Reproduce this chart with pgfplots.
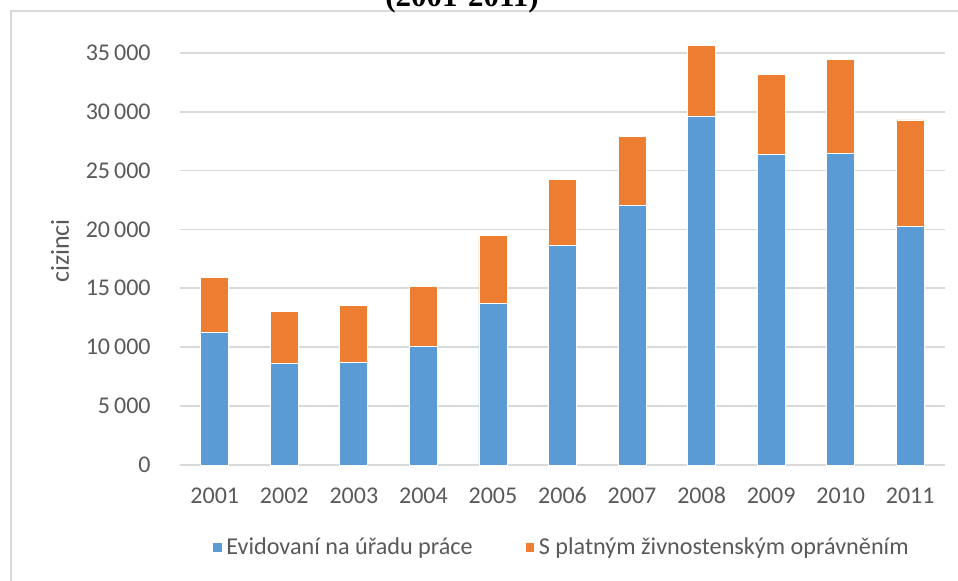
\documentclass[border=0pt]{standalone}
\usepackage{fontspec}
\usepackage{pgfplots}
\pgfplotsset{compat=1.18}
\setmainfont{Carlito}
\newfontfamily\titlefont{Liberation Serif}
\definecolor{ExBlue}{HTML}{5B9BD5}
\definecolor{ExOrange}{HTML}{ED7D31}
\definecolor{ExText}{HTML}{595959}
\definecolor{ExGrid}{HTML}{D9D9D9}

% 1 px of the reference = 0.5pt
\begin{document}
\begin{tikzpicture}
\draw[ExGrid, line width=1pt] (5.5pt,-5pt) -- (5.5pt,284.5pt) -- (485pt,284.5pt);
\node[anchor=base, inner sep=0pt, font=\titlefont\bfseries\fontsize{15.5}{18}\selectfont]
  at (231pt,287pt) {(2001-2011)};
\begin{axis}[
  at={(90pt,57.5pt)}, anchor=south west,
  scale only axis,
  width=382.5pt, height=206.15pt,
  ybar stacked, bar width=14pt,
  xmin=-0.5, xmax=10.5,
  ymin=0, ymax=35000,
  clip=false,
  axis line style={draw=none},
  scaled y ticks=false,
  xtick={0,...,10},
  xticklabels={2001,2002,2003,2004,2005,2006,2007,2008,2009,2010,2011},
  ytick={0,5000,10000,15000,20000,25000,30000,35000},
  yticklabels={0,5\,000,10\,000,15\,000,20\,000,25\,000,30\,000,35\,000},
  major tick length=0pt,
  ymajorgrids,
  grid style={draw=ExGrid, line width=0.9pt},
  tick label style={text=ExText, font=\fontsize{12}{14}\selectfont,
    text height=7.6pt, text depth=0pt},
  yticklabel style={anchor=east, inner sep=0pt, xshift=-14.5pt},
  xticklabel style={anchor=north, inner sep=0pt, yshift=-11.5pt},
  legend style={at={(0.5,-0.2)}, anchor=center, draw=none, fill=none,
    legend columns=2, text=ExText, font=\fontsize{12.1}{14}\selectfont,
    /tikz/every even column/.append style={column sep=24pt}},
  legend image code/.code={\fill[#1] (0pt,-2.3pt) rectangle (4.6pt,2.3pt);},
]
\addplot[fill=ExBlue, draw=white, line width=0.4pt] coordinates {
  (0,11230) (1,8630) (2,8740) (3,10040) (4,13730) (5,18650)
  (6,22010) (7,29630) (8,26340) (9,26460) (10,20230)};
\addlegendentry{Evidovaní na úřadu práce}
\addplot[fill=ExOrange, draw=white, line width=0.4pt] coordinates {
  (0,4700) (1,4440) (2,4780) (3,5130) (4,5770) (5,5600)
  (6,5860) (7,5970) (8,6850) (9,7950) (10,9060)};
\addlegendentry{S platným živnostenským oprávněním}
\end{axis}
\node[rotate=90, text=ExText, font=\fontsize{13}{15}\selectfont] at (30pt,164.5pt) {cizinci};
\pgfresetboundingbox
\useasboundingbox (0pt,0pt) rectangle (479pt,290pt);
\end{tikzpicture}
\end{document}
